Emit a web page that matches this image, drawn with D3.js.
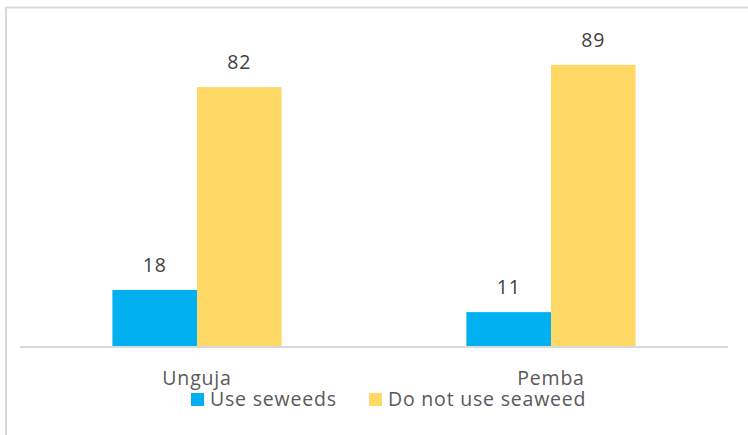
<!DOCTYPE html>
<html>
<head>
<meta charset="utf-8">
<script src="https://cdn.jsdelivr.net/npm/d3@7"></script>
<style>
  html, body { margin: 0; padding: 0; background: #fff; }
  svg { display: block; font-family: "Open Sans", sans-serif; }
</style>
</head>
<body>
<svg id="chart" width="748" height="435"></svg>
<script>
// Share of respondents using seaweed, by island (%)
const islands = ["Unguja", "Pemba"];
const seriesNames = ["Use seweeds", "Do not use seaweed"];
const useSeaweed = [18, 11];
const doNotUse = [82, 89];
const seriesColors = ["#00b0f0", "#ffd966"];

const seriesValues = [useSeaweed, doNotUse];
const rows = islands.map((name, i) => ({
  name,
  values: seriesNames.map((s, j) => ({ series: s, idx: j, value: seriesValues[j][i] }))
}));

const svg = d3.select("#chart");
const W = 748, H = 435;
const plot = { left: 20, right: 728, top: 30, bottom: 347 };
const fontSize = 19.5;
const spacing = "0.8px";

// Chart frame (top and left edges)
svg.append("line").attr("x1", 6).attr("x2", W).attr("y1", 7.5).attr("y2", 7.5)
  .attr("stroke", "#d9d9d9").attr("stroke-width", 2);
svg.append("line").attr("x1", 6).attr("x2", 6).attr("y1", 7).attr("y2", H)
  .attr("stroke", "#d9d9d9").attr("stroke-width", 2);

const x0 = d3.scaleBand().domain(islands).range([plot.left, plot.right]).padding(0);
const groupFrac = 0.478;
const x1 = d3.scaleBand().domain(seriesNames)
  .range([0, x0.bandwidth() * groupFrac]).padding(0);
const y = d3.scaleLinear().domain([0, 100]).range([plot.bottom, plot.top]);

const groups = svg.append("g").selectAll("g").data(rows).join("g")
  .attr("transform", d => `translate(${x0(d.name) + x0.bandwidth() * (1 - groupFrac) / 2},0)`);

groups.selectAll("rect").data(d => d.values).join("rect")
  .attr("x", d => x1(d.series))
  .attr("width", x1.bandwidth())
  .attr("y", d => y(d.value))
  .attr("height", d => y(0) - y(d.value))
  .attr("fill", d => seriesColors[d.idx]);

groups.selectAll("text").data(d => d.values).join("text")
  .attr("x", d => x1(d.series) + x1.bandwidth() / 2)
  .attr("y", d => y(d.value) - 18)
  .attr("text-anchor", "middle")
  .attr("font-size", fontSize)
  .attr("letter-spacing", spacing)
  .attr("fill", "#404040")
  .text(d => d.value);

// Category axis
const xAxis = svg.append("g").attr("transform", `translate(0,${plot.bottom})`)
  .call(d3.axisBottom(x0).tickSize(0).tickPadding(24));
xAxis.select(".domain").attr("stroke", "#d9d9d9").attr("stroke-width", 2)
  .attr("d", `M${plot.left},0H${plot.right}`);
xAxis.selectAll("text").attr("font-size", fontSize).attr("fill", "#595959")
  .attr("letter-spacing", spacing)
  .attr("font-family", "Open Sans, sans-serif");

// Legend
const legendItems = [
  { name: seriesNames[0], color: seriesColors[0], x: 191 },
  { name: seriesNames[1], color: seriesColors[1], x: 369 }
];
const lg = svg.append("g").selectAll("g").data(legendItems).join("g")
  .attr("transform", d => `translate(${d.x},393)`);
lg.append("rect").attr("width", 13).attr("height", 13).attr("fill", d => d.color);
lg.append("text").attr("x", 19).attr("y", 12.5).attr("font-size", fontSize)
  .attr("letter-spacing", spacing)
  .attr("fill", "#595959").text(d => d.name);
</script>
</body>
</html>
